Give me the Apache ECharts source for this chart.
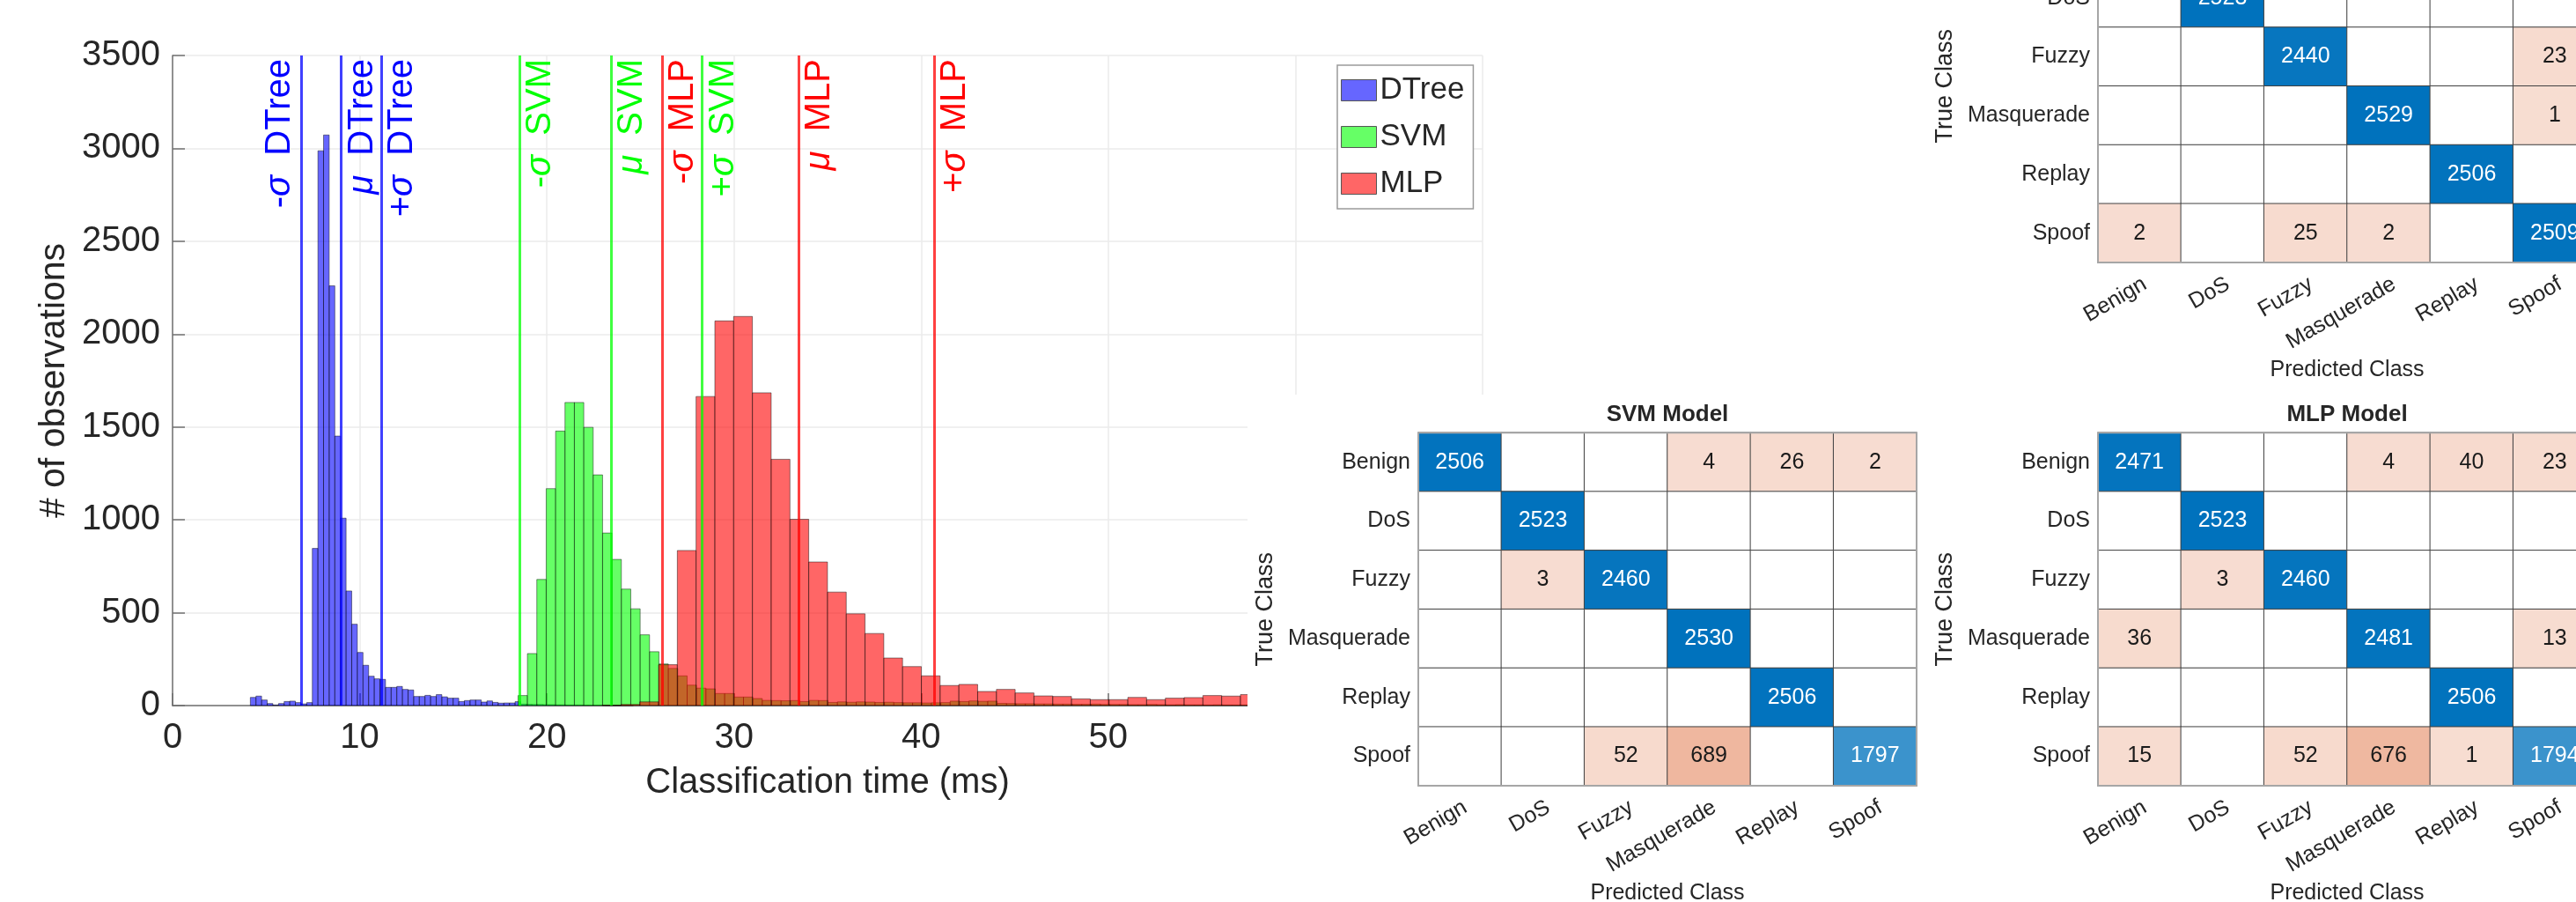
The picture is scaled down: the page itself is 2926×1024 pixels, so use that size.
<!DOCTYPE html>
<html>
<head>
<meta charset="utf-8">
<title>Classification time and confusion matrices</title>
<script src="https://cdn.jsdelivr.net/npm/echarts@6/dist/echarts.min.js"></script>
<style>
  html, body { margin: 0; padding: 0; background: #fff; }
  #chart { width: 2926px; height: 1024px; }
</style>
</head>
<body>
<div id="chart"></div>
<script>
// histogram: first bin edge (ms), bin width (ms), counts per bin
var dtreeStart = 4.156;
var dtreeWidth = 0.301;
var dtreeCounts = [44, 51, 30, 11, 3, 11, 22, 24, 16, 9, 16, 846, 2987, 3072, 2260, 1451, 1009, 617, 438, 286,
  217, 158, 144, 141, 98, 98, 103, 87, 84, 49, 49, 55, 49, 59, 47, 40, 40, 22, 27, 30,
  30, 19, 25, 17, 13, 14, 14, 21, 8, 7, 6, 6, 5, 5, 4, 4, 3, 3, 3, 2, 2, 2, 2, 1, 1, 1, 1, 1];

var svmStart = 18.46;
var svmWidth = 0.502;
var svmCounts = [54, 280, 679, 1168, 1478, 1632, 1632, 1498, 1242, 929, 787, 627, 521, 381, 290, 224, 200, 160, 110, 94,
  90, 65, 65, 46, 46, 38, 28, 27, 26, 27, 22, 28, 27, 17, 20, 18, 20, 19, 17, 18,
  16, 15, 15, 14, 15, 16, 24, 22, 25, 23, 24, 12, 11, 10, 10, 9, 9, 8, 8, 7,
  7, 8, 6, 6, 6, 5, 5, 6, 5, 4, 5, 4, 4, 3, 4, 3, 3, 3];

var mlpStart = 22.96;
var mlpWidth = 1.003;
var mlpCounts = [2, 6, 20, 220, 835, 1664, 2071, 2095, 1684, 1326, 1003, 773, 611, 494, 388, 256, 210, 160, 108, 114,
  76, 87, 68, 52, 49, 36, 32, 32, 44, 32, 40, 43, 54, 51, 59];

// -sigma, mu, +sigma (ms)
var dtreeStats = [6.88, 9.01, 11.14];
var svmStats = [18.55, 23.43, 28.30];
var mlpStats = [26.17, 33.44, 40.70];

var classes = ['Benign', 'DoS', 'Fuzzy', 'Masquerade', 'Replay', 'Spoof'];

// confusion matrices, rows = true class, cols = predicted class
var svmMatrix = [
  [2506, 0, 0, 4, 26, 2],
  [0, 2523, 0, 0, 0, 0],
  [0, 3, 2460, 0, 0, 0],
  [0, 0, 0, 2530, 0, 0],
  [0, 0, 0, 0, 2506, 0],
  [0, 0, 52, 689, 0, 1797]
];
var mlpMatrix = [
  [2471, 0, 0, 4, 40, 23],
  [0, 2523, 0, 0, 0, 0],
  [0, 3, 2460, 0, 0, 0],
  [36, 0, 0, 2481, 0, 13],
  [0, 0, 0, 0, 2506, 0],
  [15, 0, 52, 676, 1, 1794]
];
// DTree panel is cut off at the top; its Benign row is not visible
var dtreeMatrix = [
  null,
  [0, 2523, 0, 0, 0, 0],
  [0, 0, 2440, 0, 0, 23],
  [0, 0, 0, 2529, 0, 1],
  [0, 0, 0, 0, 2506, 0],
  [2, 0, 25, 2, 0, 2509]
];

var FONT = '"Liberation Sans", Arial, Helvetica, sans-serif';
var TXT = '#262626';

function toBins(start, width, counts) {
  return counts.map(function (c, i) {
    return [start + i * width, start + (i + 1) * width, c];
  });
}

function histSeries(name, start, width, counts, fill) {
  return {
    name: name,
    type: 'custom',
    xAxisIndex: 0,
    yAxisIndex: 0,
    z: 2,
    itemStyle: { color: fill },
    encode: { x: [0, 1], y: 2 },
    data: toBins(start, width, counts),
    renderItem: function (params, api) {
      var p0 = api.coord([api.value(0), api.value(2)]);
      var p1 = api.coord([api.value(1), 0]);
      var cs = params.coordSys;
      var rect = echarts.graphic.clipRectByRect(
        { x: p0[0], y: p0[1], width: p1[0] - p0[0], height: p1[1] - p0[1] },
        { x: cs.x, y: cs.y, width: cs.width, height: cs.height }
      );
      return rect && {
        type: 'rect',
        shape: rect,
        style: { fill: fill, stroke: 'rgba(0,0,0,0.45)', lineWidth: 1 }
      };
    }
  };
}

function statLines(name, stats, color, lineColor, sides) {
  var texts = ['-{i|σ}  ' + name, '{i|μ}  ' + name, '+{i|σ}  ' + name];
  return {
    name: name + ' stats',
    type: 'line',
    xAxisIndex: 0,
    yAxisIndex: 0,
    data: [],
    z: 3,
    markLine: {
      silent: true,
      symbol: ['none', 'none'],
      animation: false,
      lineStyle: { color: lineColor, width: 3, type: 'solid' },
      data: stats.map(function (v, i) {
        return {
          xAxis: v,
          label: {
            show: true,
            position: sides[i],
            distance: 4,
            formatter: texts[i],
            color: color,
            fontSize: 40,
            fontFamily: FONT,
            rich: { i: { fontStyle: 'italic', fontSize: 40, color: color, fontFamily: FONT } }
          }
        };
      })
    }
  };
}

function cellColor(v, max, diag) {
  if (!v) return '#ffffff';
  var base = diag ? [0, 114, 189] : [217, 83, 25];
  var a = 0.2 + 0.8 * v / max;
  return 'rgb(' + base.map(function (c) { return Math.round(255 + (c - 255) * a); }).join(',') + ')';
}

function matrixData(m) {
  var max = 0;
  m.forEach(function (row) { if (row) row.forEach(function (v) { max = Math.max(max, v); }); });
  var out = [];
  m.forEach(function (row, r) {
    if (!row) return;
    row.forEach(function (v, c) {
      out.push({
        value: [c, r, v],
        itemStyle: { color: cellColor(v, max, r === c) },
        label: { color: r === c ? '#ffffff' : '#1a1a1a' }
      });
    });
  });
  return out;
}

function cmGrid(left, top, height) {
  return {
    left: left, top: top, width: 566, height: height,
    show: true, z: 11, borderColor: '#a6a6a6', borderWidth: 2, backgroundColor: 'transparent',
    outerBoundsMode: 'none', containLabel: false
  };
}

var grids = [
  { left: 196, top: 63, width: 1488, height: 738, show: false, outerBoundsMode: 'none', containLabel: false },
  cmGrid(1611, 491.3, 400.7),
  cmGrid(2383, 491.3, 400.7),
  cmGrid(2383, -102.5, 400.5)
];

function cmXAxis(gi) {
  return {
    gridIndex: gi, type: 'category', data: classes, z: 12,
    axisLine: { show: false }, axisTick: { show: false }, splitLine: { show: false },
    axisLabel: { rotate: 30, interval: 0, margin: 12, verticalAlign: 'top', fontSize: 25, color: TXT, fontFamily: FONT },
    name: 'Predicted Class', nameLocation: 'middle', nameGap: 110,
    nameTextStyle: { fontSize: 25, color: TXT, fontFamily: FONT }
  };
}
function cmYAxis(gi) {
  return {
    gridIndex: gi, type: 'category', data: classes, inverse: true, z: 12,
    axisLine: { show: false }, axisTick: { show: false }, splitLine: { show: false },
    axisLabel: { interval: 0, margin: 9, fontSize: 25, color: TXT, fontFamily: FONT },
    name: 'True Class', nameLocation: 'middle', nameGap: 160, nameRotate: 90,
    nameTextStyle: { fontSize: 27, color: TXT, fontFamily: FONT }
  };
}
function cmSeries(gi, m) {
  return {
    type: 'heatmap', xAxisIndex: gi, yAxisIndex: gi, z: 10,
    itemStyle: { borderColor: '#404040', borderWidth: 1 },
    label: {
      show: true, fontSize: 25, fontFamily: FONT,
      formatter: function (p) { return p.value[2] ? String(p.value[2]) : ''; }
    },
    emphasis: { disabled: true },
    data: matrixData(m)
  };
}

function plain(v) { return String(v); }

var chart = echarts.init(document.getElementById('chart'), null, { renderer: 'canvas' });

chart.setOption({
  animation: false,
  backgroundColor: '#ffffff',
  textStyle: { fontFamily: FONT },
  grid: grids,
  legend: {
    data: ['DTree', 'SVM', 'MLP'],
    orient: 'vertical',
    left: 1519,
    top: 74,
    padding: [11, 10, 11, 4],
    itemWidth: 40,
    itemHeight: 24,
    itemGap: 18,
    icon: 'rect',
    selectedMode: false,
    backgroundColor: '#ffffff',
    borderColor: '#9a9a9a',
    borderWidth: 1.5,
    itemStyle: { borderColor: '#555', borderWidth: 1 },
    textStyle: { fontSize: 35, color: TXT, fontFamily: FONT, lineHeight: 24, padding: [0, 0, 0, -1] }
  },
  xAxis: [
    {
      gridIndex: 0, type: 'value', min: 0, max: 70, interval: 10,
      axisLine: { show: true, lineStyle: { color: '#707070', width: 1.5 } },
      axisTick: { show: true, inside: true, length: 14, lineStyle: { color: '#707070', width: 1.5 } },
      axisLabel: { fontSize: 40, color: TXT, margin: 17, fontFamily: FONT, formatter: plain },
      splitLine: { show: true, lineStyle: { color: '#ebebeb', width: 1.5 } },
      name: 'Classification time (ms)', nameLocation: 'middle', nameGap: 68,
      nameTextStyle: { fontSize: 40, color: TXT, fontFamily: FONT }
    },
    cmXAxis(1), cmXAxis(2), cmXAxis(3)
  ],
  yAxis: [
    {
      gridIndex: 0, type: 'value', min: 0, max: 3500, interval: 500,
      axisLine: { show: true, lineStyle: { color: '#707070', width: 1.5 } },
      axisTick: { show: true, inside: true, length: 14, lineStyle: { color: '#707070', width: 1.5 } },
      axisLabel: { fontSize: 40, color: TXT, margin: 14, fontFamily: FONT, formatter: plain },
      splitLine: { show: true, lineStyle: { color: '#ebebeb', width: 1.5 } },
      name: '# of observations', nameLocation: 'middle', nameGap: 94, nameRotate: 90,
      nameTextStyle: { fontSize: 41, color: TXT, fontFamily: FONT }
    },
    cmYAxis(1), cmYAxis(2), cmYAxis(3)
  ],
  graphic: [
    { type: 'rect', z: 5, silent: true, shape: { x: 1417, y: 448, width: 1509, height: 576 }, style: { fill: '#ffffff' } },
    { type: 'text', z: 20, silent: true, x: 1894, y: 471,
      style: { text: 'SVM Model', fontSize: 26, fontWeight: 'bold', fill: TXT, fontFamily: FONT, align: 'center', verticalAlign: 'middle' } },
    { type: 'text', z: 20, silent: true, x: 2666, y: 471,
      style: { text: 'MLP Model', fontSize: 26, fontWeight: 'bold', fill: TXT, fontFamily: FONT, align: 'center', verticalAlign: 'middle' } }
  ],
  series: [
    histSeries('DTree', dtreeStart, dtreeWidth, dtreeCounts, 'rgba(0,0,255,0.6)'),
    histSeries('SVM', svmStart, svmWidth, svmCounts, 'rgba(0,255,0,0.6)'),
    histSeries('MLP', mlpStart, mlpWidth, mlpCounts, 'rgba(255,0,0,0.6)'),
    statLines('DTree', dtreeStats, '#0000ff', 'rgba(0,0,255,0.75)', ['insideEndTop', 'insideEndBottom', 'insideEndBottom']),
    statLines('SVM', svmStats, '#00ff00', 'rgba(0,255,0,0.75)', ['insideEndBottom', 'insideEndBottom', 'insideEndBottom']),
    statLines('MLP', mlpStats, '#ff0000', 'rgba(255,0,0,0.75)', ['insideEndBottom', 'insideEndBottom', 'insideEndBottom']),
    cmSeries(1, svmMatrix),
    cmSeries(2, mlpMatrix),
    cmSeries(3, dtreeMatrix)
  ]
});
</script>
</body>
</html>
